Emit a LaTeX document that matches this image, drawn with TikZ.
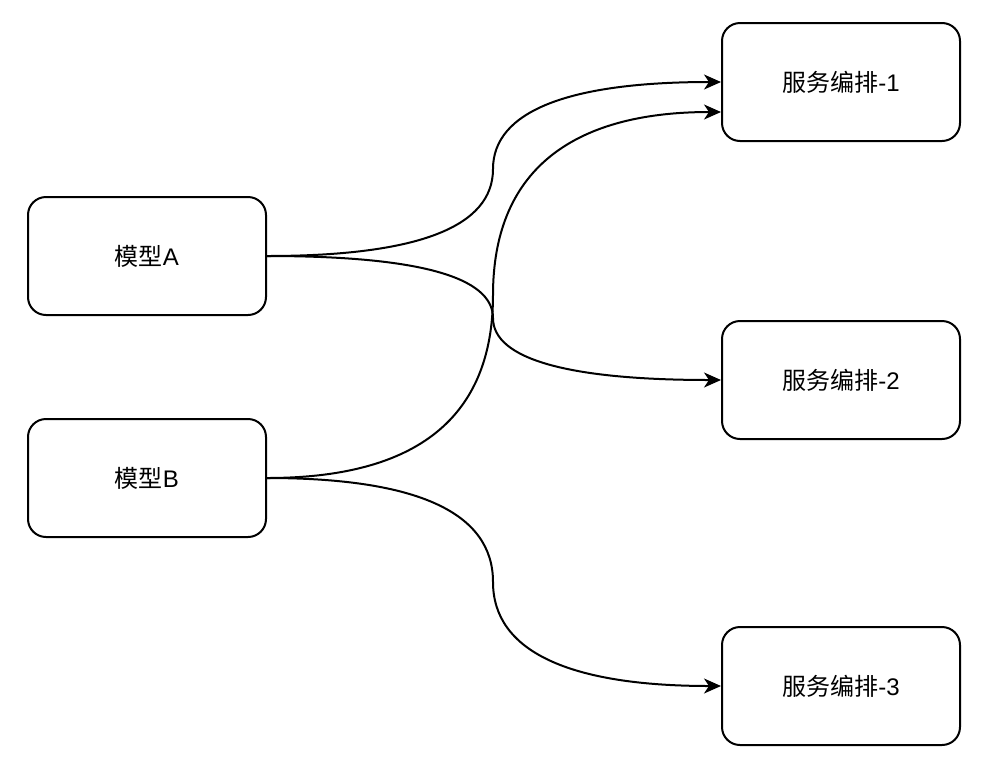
\documentclass[tikz,border=0pt]{standalone}
\usepackage{fontspec}
\setmainfont{Liberation Sans}
\newfontfamily\cjk{Noto Sans CJK SC}
\usetikzlibrary{arrows.meta}
\begin{document}
\begin{tikzpicture}[x=1pt,y=-1pt,
  box/.style={draw=black, line width=2pt, rounded corners=18pt, fill=white,
    minimum width=238pt, minimum height=118pt, font=\fontsize{24pt}{28pt}\selectfont, inner sep=0pt},
  conn/.style={draw=black, line width=2pt, -{Stealth[length=17pt,width=15pt,inset=5pt]}}]
\useasboundingbox (0,0) rectangle (982,764);
\node[box] (A) at (147,256) {{\cjk 模型}A};
\node[box] (B) at (147,478) {{\cjk 模型}B};
\node[box] (S1) at (841,82) {{\cjk 服务编排}-1};
\node[box] (S2) at (841,380) {{\cjk 服务编排}-2};
\node[box] (S3) at (841,686) {{\cjk 服务编排}-3};
\coordinate (S1b) at ([yshift=-30pt]S1.west);
\draw[conn] (A.east) .. controls (417.7,256) and (493,227) .. (493,169)
  .. controls (493,111) and (569,82) .. (S1.west);
\draw[conn] (A.east) .. controls (417.7,256) and (493,276.7) .. (493,318)
  .. controls (493,359.3) and (569,380) .. (S2.west);
\draw[conn] (B.east) .. controls (417.7,478) and (493,417) .. (493,295)
  .. controls (493,173) and (569,112) .. (S1b);
\draw[conn] (B.east) .. controls (417.7,478) and (493,512.7) .. (493,582)
  .. controls (493,651.3) and (569,686) .. (S3.west);
\end{tikzpicture}
\end{document}
